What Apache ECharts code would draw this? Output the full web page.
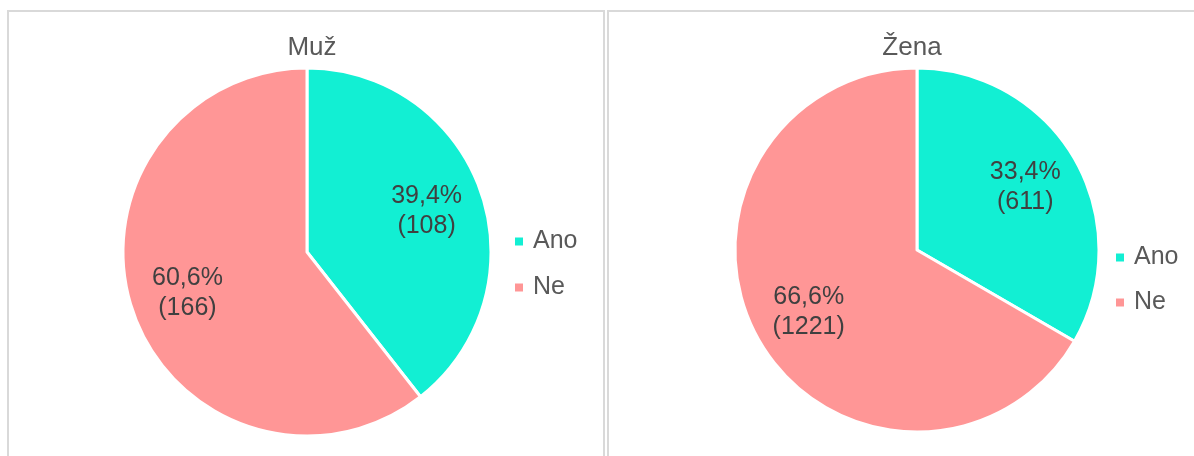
<!DOCTYPE html>
<html>
<head>
<meta charset="utf-8">
<script src="https://cdn.jsdelivr.net/npm/echarts@6/dist/echarts.min.js"></script>
<style>
  html, body { margin: 0; padding: 0; background: #ffffff; }
  #chart { width: 1194px; height: 456px; }
</style>
</head>
<body>
<div id="chart"></div>
<script>
// Answer categories and counts per group
const categories = ['Ano', 'Ne'];
const groupTitles = ['Muž', 'Žena'];
const menCounts = [108, 166];
const womenCounts = [611, 1221];
const sliceColors = ['#12EFD3', '#FF9696'];

const chart = echarts.init(document.getElementById('chart'), null, { renderer: 'canvas' });

const textFont = 'Liberation Sans, Arial, sans-serif';

function toData(counts) {
  return categories.map((name, i) => ({ name, value: counts[i] }));
}

function fmtLabel(p) {
  return String(p.percent).replace('.', ',') + '%\n(' + p.value + ')';
}

function pieSeries(counts, center, radius) {
  return [
    {
      type: 'pie',
      center: center,
      radius: radius,
      startAngle: 90,
      clockwise: true,
      silent: true,
      color: sliceColors,
      itemStyle: { borderColor: '#ffffff', borderWidth: 3 },
      label: { show: false },
      labelLine: { show: false },
      data: toData(counts)
    },
    {
      // label layer: a wider transparent ring so the text sits two thirds out
      type: 'pie',
      center: center,
      radius: Math.round(radius * 1.34),
      startAngle: 90,
      clockwise: true,
      silent: true,
      percentPrecision: 1,
      legendHoverLink: false,
      itemStyle: { color: 'rgba(0,0,0,0)', borderWidth: 0 },
      label: {
        show: true,
        position: 'inside',
        formatter: fmtLabel,
        color: '#404040',
        fontSize: 25,
        lineHeight: 30,
        fontFamily: textFont
      },
      labelLine: { show: false },
      data: toData(counts),
      tooltip: { show: false }
    }
  ];
}

chart.setOption({
  animation: false,
  backgroundColor: '#ffffff',
  title: [
    { text: groupTitles[0], left: 307, top: 30, textAlign: 'center',
      textStyle: { color: '#595959', fontSize: 26, fontWeight: 'normal', fontFamily: textFont } },
    { text: groupTitles[1], left: 907, top: 30, textAlign: 'center',
      textStyle: { color: '#595959', fontSize: 26, fontWeight: 'normal', fontFamily: textFont } }
  ],
  legend: [
    { orient: 'vertical', left: 513, top: 229, padding: 0, icon: 'rect', itemWidth: 10, itemHeight: 10,
      itemGap: 21, selectedMode: false, data: categories,
      textStyle: { color: '#595959', fontSize: 25, fontFamily: textFont, padding: [0, 0, 0, 4] } },
    { orient: 'vertical', left: 1114, top: 245, padding: 0, icon: 'rect', itemWidth: 10, itemHeight: 10,
      itemGap: 20, selectedMode: false, data: categories,
      textStyle: { color: '#595959', fontSize: 25, fontFamily: textFont, padding: [0, 0, 0, 4] } }
  ],
  graphic: [
    { type: 'rect', shape: { x: 8, y: 11, width: 596, height: 460 },
      style: { fill: 'none', stroke: '#d9d9d9', lineWidth: 2 }, z: -10, silent: true },
    { type: 'rect', shape: { x: 608, y: 11, width: 600, height: 460 },
      style: { fill: 'none', stroke: '#d9d9d9', lineWidth: 2 }, z: -10, silent: true }
  ],
  series: [
    ...pieSeries(menCounts, [307, 252], 184),
    ...pieSeries(womenCounts, [917, 250], 182)
  ]
});
</script>
</body>
</html>
